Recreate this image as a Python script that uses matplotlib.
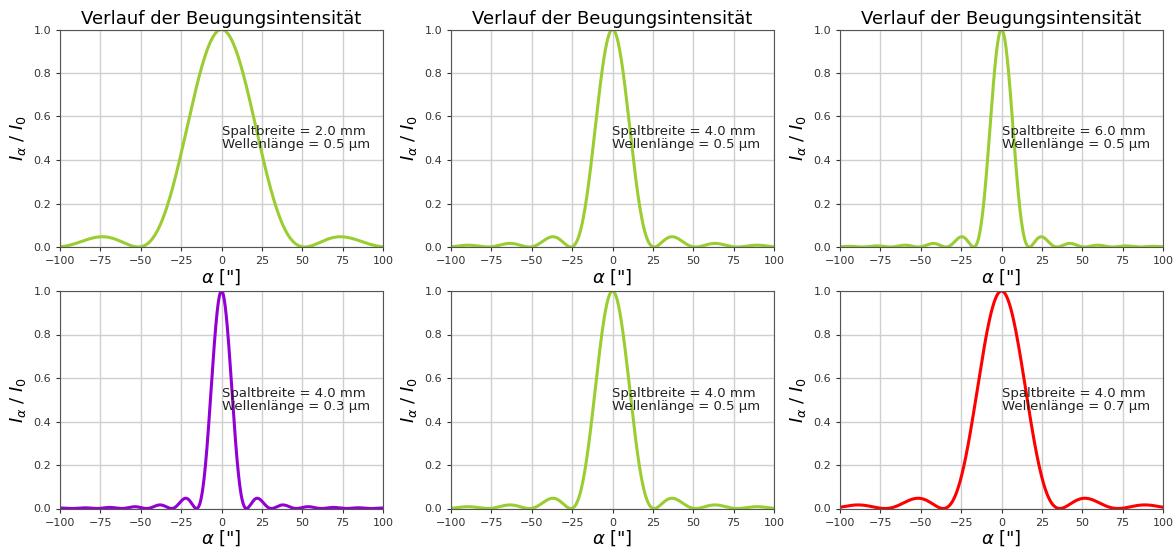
import numpy as np
import matplotlib
matplotlib.use("Agg")
import matplotlib.pyplot as plt

# Einzelspalt: Spaltbreite in mm, Wellenlänge in µm
spaltbreite_mm = [2.0, 4.0, 6.0, 4.0, 4.0, 4.0]
wellenlaenge_um = [0.5, 0.5, 0.5, 0.3, 0.5, 0.7]
farben = ["yellowgreen", "yellowgreen", "yellowgreen", "darkviolet", "yellowgreen", "red"]

alpha_bogensek = np.linspace(-100, 100, 2001)


def intensitaet(b_mm, lam_um, alpha):
    alpha_rad = alpha / 206265.0
    b = b_mm * 1e-3
    lam = lam_um * 1e-6
    return np.sinc(b / lam * np.sin(alpha_rad)) ** 2


W, H = 1175, 555
fig = plt.figure(figsize=(W / 100, H / 100), dpi=100)

links = [60, 451, 840]
oben = [29.5, 291]
breite, hoehe = 323, 217.5

for i in range(6):
    zeile, spalte = divmod(i, 3)
    ax = fig.add_axes([links[spalte] / W, (H - oben[zeile] - hoehe) / H, breite / W, hoehe / H])
    y = intensitaet(spaltbreite_mm[i], wellenlaenge_um[i], alpha_bogensek)
    ax.plot(alpha_bogensek, y, color=farben[i], lw=2.2)
    ax.set_xlim(-100, 100)
    ax.set_ylim(0, 1)
    ax.set_xticks(np.arange(-100, 101, 25))
    ax.set_yticks(np.arange(0, 1.01, 0.2))
    ax.grid(True, color="#cfcfcf", lw=1)
    ax.tick_params(labelsize=8, colors="#333333", length=3)
    for s in ax.spines.values():
        s.set_color("#555555")
    ax.set_xlabel(r'$\alpha$ ["]', fontsize=13, labelpad=1)
    ax.set_ylabel(r"$I_\alpha$ / $I_0$", fontsize=13)
    if zeile == 0:
        ax.set_title("Verlauf der Beugungsintensität", fontsize=13, pad=4)
    ax.text(0, 0.5, f"Spaltbreite = {spaltbreite_mm[i]:.1f} mm\nWellenlänge = {wellenlaenge_um[i]:.1f} µm",
            fontsize=9.5, va="center", ha="left", color="#222222", linespacing=1.0)

fig.savefig("out.png", dpi=100)
